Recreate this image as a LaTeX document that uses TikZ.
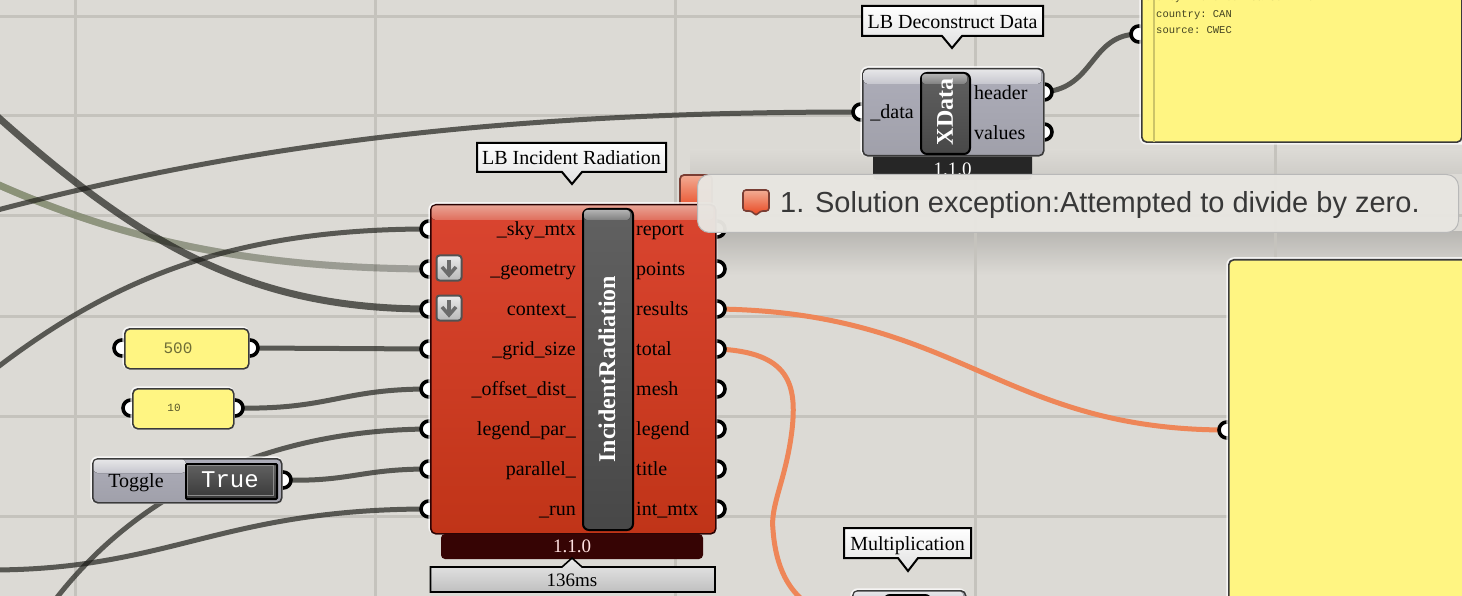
\documentclass[tikz,border=0pt]{standalone}
\usepackage{fontspec}
\setmainfont{Liberation Serif}
\setmonofont{Liberation Mono}
\setsansfont{Liberation Sans}
\usetikzlibrary{fadings,shadings}
\definecolor{bgc}{HTML}{DCDAD5}
\definecolor{gridc}{HTML}{C5C3BD}
\definecolor{wirec}{HTML}{1E1E1A}
\definecolor{wireolive}{HTML}{8A9276}
\definecolor{orangew}{HTML}{EE8658}
\definecolor{yellowp}{HTML}{FFF582}
\definecolor{edgec}{HTML}{3A3A3A}
\definecolor{redtop}{HTML}{DA4530}
\definecolor{redbot}{HTML}{C03418}
\definecolor{redhi}{HTML}{E9A293}
\definecolor{redhib}{HTML}{E06E5C}
\definecolor{verdark}{HTML}{360404}
\definecolor{greytop}{HTML}{ADADB9}
\definecolor{greybot}{HTML}{A0A0AA}
\definecolor{greyhi}{HTML}{E6E6E8}
\definecolor{greyhib}{HTML}{C6C6CE}
\definecolor{balloontop}{HTML}{F2AC94}
\definecolor{balloonbot}{HTML}{E8431C}
\definecolor{balloonedge}{HTML}{7A3E34}
\definecolor{tipc}{HTML}{E8E6E1}
\definecolor{numtxt}{HTML}{55552A}
\tikzfading[name=fadeleft,left color=transparent!0,right color=transparent!100]
\tikzset{
  wire/.style={draw=wirec,draw opacity=.69,line width=#1,line cap=butt},
  wire/.default=5,
  orangewire/.style={draw=orangew,line width=5},
  portring/.style={circle,draw=black,line width=3.6,fill=white,minimum size=16,inner sep=0},
  lab/.style={font=\fontsize{20}{20}\selectfont,text=black,inner sep=0},
  rlab/.style={lab,anchor=base east},
  llab/.style={lab,anchor=base west},
  tagbox/.style={draw=black,line width=2,top color=white,bottom color=black!12,line join=miter},
  tagtext/.style={font=\fontsize{20}{20}\selectfont,inner sep=0,text=black},
  barbox/.style={draw=black,line width=2,rounded corners=6,top color=black!62,bottom color=black!72},
  barhi/.style={rounded corners=3,top color=black!30,bottom color=black!50},
  greybody/.style={draw=edgec,line width=1.6,rounded corners=5,top color=greytop,bottom color=greybot},
  greyband/.style={rounded corners=4,top color=greyhi,bottom color=greyhib},
  yellowbody/.style={draw=edgec,line width=1.6,rounded corners=5,fill=yellowp},
  glow/.style={draw=white,opacity=.75,line width=3.5,rounded corners=6},
  monotxt/.style={font=\ttfamily\fontsize{10.5}{10.5}\selectfont,text=numtxt!80!black,inner sep=0,anchor=base west},
}
\begin{document}
\begin{tikzpicture}[x=1pt,y=-1pt]
\useasboundingbox (0,0) rectangle (1462,596);
\clip (0,0) rectangle (1462,596);
% background and grid
\fill[bgc] (0,0) rectangle (1462,596);
\shade[top color=black!16!bgc,bottom color=bgc] (690,232) rectangle (1462,275);
\shade[top color=bgc,bottom color=black!6!bgc] (690,150) rectangle (1462,174);
\foreach \gx in {75,375,675,975,1275}{\draw[gridc,line width=3] (\gx,0) -- (\gx,596);}
\foreach \gy in {17,116,216,316,416,516}{\draw[gridc,line width=3] (0,\gy) -- (1462,\gy);}
% port positions
\coordinate (skyP) at (429,229);
\coordinate (geoP) at (429,269);
\coordinate (ctxP) at (429,309);
\coordinate (gridP) at (429,349);
\coordinate (offP) at (429,389);
\coordinate (legP) at (429,429);
\coordinate (parP) at (429,469);
\coordinate (runP) at (429,509);
\coordinate (reportP) at (717,229);
\coordinate (pointsP) at (717,269);
\coordinate (resultsP) at (717,309);
\coordinate (totalP) at (717,349);
\coordinate (meshP) at (717,389);
\coordinate (legendP) at (717,429);
\coordinate (titleP) at (717,469);
\coordinate (intP) at (717,509);
\coordinate (dataP) at (861,112);
\coordinate (headerP) at (1044,92);
\coordinate (valuesP) at (1044,132);
\coordinate (panelAP) at (1139,34);
\coordinate (panelBP) at (1227,430);
\coordinate (n500L) at (122,348);
\coordinate (n500R) at (250,348);
\coordinate (n10L) at (131,408);
\coordinate (n10R) at (235,408);
\coordinate (togR) at (283,480);
\coordinate (w1) at (-10,181);
\coordinate (w2) at (-10,110);
\coordinate (w3) at (-10,373);
\coordinate (w4) at (-10,212);
\coordinate (w5) at (55,600);
\coordinate (w6) at (-10,570);
\coordinate (w7) at (805,602);
% wires
\draw[draw=black,draw opacity=.27,line width=7] (w1) .. controls (120,240) and (250,268) .. (geoP);
\draw[draw=wireolive,line width=7,path fading=fadeleft] (w1) .. controls (120,240) and (250,268) .. (geoP);
\draw[wire=7] (w2) .. controls (140,245) and (250,309) .. (ctxP);
\draw[wire=5] (w3) .. controls (110,280) and (230,229) .. (skyP);
\draw[wire=5] (w4) .. controls (280,135) and (550,112) .. (dataP);
\draw[wire=5] (w5) .. controls (140,490) and (270,430) .. (legP);
\draw[wire=5] (w6) .. controls (170,570) and (220,509) .. (runP);
\draw[wire=5] (togR) .. controls (350,482) and (360,469) .. (parP);
\draw[wire=5] (n10R) .. controls (330,410) and (340,389) .. (offP);
\draw[wire=5] (n500R) -- (gridP);
\draw[wire=5] (headerP) .. controls (1095,88) and (1090,34) .. (panelAP);
\draw[orangewire] (resultsP) .. controls (960,312) and (1000,430) .. (panelBP);
\draw[orangewire] (totalP) .. controls (790,352) and (797,385) .. (792,430) .. controls (786,480) and (770,505) .. (773,530) .. controls (776,570) and (790,590) .. (w7);
% port rings
\foreach \p in {skyP,geoP,ctxP,gridP,offP,legP,parP,runP,reportP,pointsP,resultsP,totalP,meshP,legendP,titleP,intP,dataP,headerP,valuesP,panelAP,panelBP,n500L,n500R,n10L,n10R,togR}{
  \node[portring] (ring\p) at (\p) {};
}
% top yellow panel
\draw[glow] (1141,-10) rectangle (1470,143);
\node[yellowbody,minimum width=320,minimum height=153,anchor=south west,inner sep=0] (panelA) at (1141,143) {};
\draw[yellowp!80!black,line width=1.5] (1154,-5) -- (1154,142);
\node[monotxt] (indexT) at (1145,1) {0};
\node[monotxt] (cityT) at (1156,1) {city: Toronto Pearson Intl AP};
\node[monotxt] (countryT) at (1156,18) {country: CAN};
\node[monotxt] (sourceT) at (1156,34) {source: CWEC};
% big yellow panel
\draw[glow] (1228,259) rectangle (1480,620);
\node[yellowbody,minimum width=260,minimum height=360,anchor=north west,inner sep=0] (panelB) at (1228,259) {};
% small error balloon behind the component
\draw[draw=balloonedge,line width=1.8,rounded corners=4,top color=balloontop,bottom color=balloonbot] (680,175) rectangle (712,212);
% red component
\draw[glow] (430,204) rectangle (715.5,533);
\node[draw=verdark!80!black,line width=1.6,rounded corners=5,top color=redtop,bottom color=redbot,minimum width=285,minimum height=329,anchor=north west,inner sep=0] (radBody) at (430,204) {};
\fill[rounded corners=4,top color=redhi,bottom color=redhib] (431.5,205.5) rectangle (713.5,220);
\fill[verdark,rounded corners=4] (441,534) rectangle (703,559);
\node[font=\fontsize{19}{19}\selectfont,text=red!12!white,inner sep=0] (radVer) at (572,546) {1.1.0};
\draw[draw=black,line width=1.6,top color=white!92!black,bottom color=black!25] (430.5,567) -- (562,567) -- (572,558) -- (582,567) -- (715,567) -- (715,592) -- (430.5,592) -- cycle;
\node[font=\fontsize{19}{19}\selectfont,text=black,inner sep=0] (radTime) at (572,580) {136ms};
\node[barbox,minimum width=50,minimum height=321,anchor=north west,inner sep=0] (radBar) at (582,208) {};
\fill[barhi] (584,210) rectangle (630,220);
\node[font=\bfseries\fontsize{24}{24}\selectfont,text=white,rotate=90,inner sep=0] (radName) at (607,369) {IncidentRadiation};
% input labels
\node[rlab] (l1) at (576,236) {\_sky\_mtx};
\node[rlab] (l2) at (576,276) {\_geometry};
\node[rlab] (l3) at (576,315.5) {context\_};
\node[rlab] (l4) at (576,355.5) {\_grid\_size};
\node[rlab] (l5) at (576,395.5) {\_offset\_dist\_};
\node[rlab] (l6) at (576,435.5) {legend\_par\_};
\node[rlab] (l7) at (576,475.5) {parallel\_};
\node[rlab] (l8) at (576,515.5) {\_run};
\node[llab] (r1) at (636,236) {report};
\node[llab] (r2) at (636,276) {points};
\node[llab] (r3) at (636,315.5) {results};
\node[llab] (r4) at (636,355.5) {total};
\node[llab] (r5) at (636,395.5) {mesh};
\node[llab] (r6) at (636,435.5) {legend};
\node[llab] (r7) at (636,475.5) {title};
\node[llab] (r8) at (636,515.5) {int\_mtx};
% graft arrows
\foreach \ay/\an in {268/a,308/b}{
  \node[draw=black!68,line width=2,rounded corners=3,top color=black!8,bottom color=black!28,minimum size=25,inner sep=0] (graft\an) at (449,\ay) {};
  \draw[black!58,line width=4.5] (449,\ay-8) -- (449,\ay+6);
  \draw[black!58,line width=3.5] (442,\ay-1) -- (449,\ay+7) -- (456,\ay-1);
}
% tag of red component
\draw[tagbox] (477,143) -- (666,143) -- (666,172) -- (582,172) -- (572,184) -- (562,172) -- (477,172) -- cycle;
\node[tagtext] (radTag) at (571.5,157.5) {LB Incident Radiation};
% XData component
\fill[black!85,rounded corners=4] (873,150) rectangle (1032,180);
\node[font=\fontsize{19}{19}\selectfont,text=white,inner sep=0] (xVer) at (952.5,169) {1.1.0};
\draw[glow] (862,68) rectangle (1043,155);
\node[greybody,minimum width=181,minimum height=87,anchor=north west,inner sep=0] (xBody) at (862,68) {};
\fill[greyband] (863.5,69.5) rectangle (1041.5,84);
\node[barbox,minimum width=49,minimum height=81,anchor=north west,inner sep=0] (xBar) at (920,72) {};
\fill[barhi] (922,74) rectangle (967,84);
\node[font=\bfseries\fontsize{24}{24}\selectfont,text=white,rotate=90,inner sep=0] (xName) at (945,112) {XData};
\node[rlab] (xl) at (914,119) {\_data};
\node[llab] (xr1) at (974,99.5) {header};
\node[llab] (xr2) at (974,139.5) {values};
\draw[tagbox] (862,6) -- (1043,6) -- (1043,36) -- (962,36) -- (952,48) -- (942,36) -- (862,36) -- cycle;
\node[tagtext] (xTag) at (952.5,22) {LB Deconstruct Data};
% number params
\draw[glow] (124,328) rectangle (248,368);
\node[yellowbody,minimum width=124,minimum height=40,anchor=north west,inner sep=0] (p500) at (124,328) {};
\node[font=\ttfamily\fontsize{16}{16}\selectfont,text=numtxt!85!yellowp,inner sep=0] (p500T) at (178,348) {500};
\draw[glow] (132,388) rectangle (233,428);
\node[yellowbody,minimum width=101,minimum height=40,anchor=north west,inner sep=0] (p10) at (132,388) {};
\node[font=\ttfamily\fontsize{11}{11}\selectfont,text=numtxt,inner sep=0] (p10T) at (174,408) {10};
% toggle
\draw[glow] (92,458) rectangle (281,502);
\node[greybody,minimum width=189,minimum height=44,anchor=north west,inner sep=0] (togBody) at (92,458) {};
\fill[greyband] (93.5,459.5) rectangle (186,473);
\node[draw=black,line width=2,top color=black!62,bottom color=black!78,rounded corners=1,minimum width=91,minimum height=35,anchor=north west,inner sep=0] (togBox) at (185,463) {};
\draw[black!45,line width=1] (187.5,465.5) rectangle (273.5,495.5);
\node[font=\fontsize{20}{20}\selectfont,text=black,inner sep=0] (togLab) at (136,483) {Toggle};
\node[font=\ttfamily\fontsize{24}{24}\selectfont,text=white,inner sep=0] (togVal) at (230,480) {True};
% multiplication
\draw[glow] (852,590) rectangle (965,620);
\node[greybody,minimum width=113,minimum height=40,anchor=north west,inner sep=0] (mulBody) at (852,590) {};
\fill[greyband] (853.5,591.5) rectangle (963.5,606);
\node[barbox,minimum width=47,minimum height=30,anchor=north west,inner sep=0] (mulBar) at (883,594) {};
\draw[tagbox] (844,528) -- (971,528) -- (971,558) -- (918,558) -- (908,571) -- (898,558) -- (844,558) -- cycle;
\node[tagtext] (mulTag) at (907.5,545.5) {Multiplication};
% tooltip
\node[draw=black!28,line width=1,fill=tipc,fill opacity=.97,rounded corners=12,minimum width=761,minimum height=58,anchor=north west,inner sep=0] (tip) at (697,174) {};
\draw[draw=balloonedge,line width=1.6,rounded corners=3,top color=balloontop,bottom color=balloonbot] (743,190) -- (769,190) -- (769,211) -- (760,211) -- (756,216) -- (752,211) -- (743,211) -- cycle;
\node[font=\sffamily\fontsize{29}{29}\selectfont,text=black!78,inner sep=0,anchor=base west] (tipT) at (780,212.5) {1. Solution exception:Attempted to divide by zero.};
\end{tikzpicture}
\end{document}
